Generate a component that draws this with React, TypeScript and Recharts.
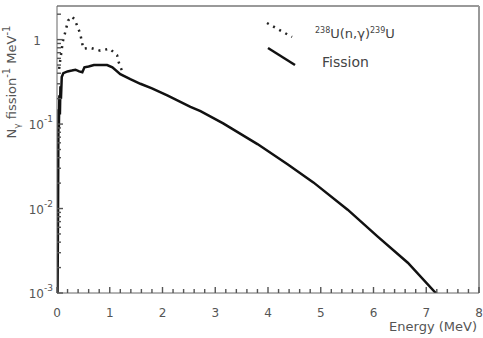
import React from 'react';
import { LineChart, Line, XAxis, YAxis, ReferenceLine } from 'recharts';

// prompt fission gamma spectrum, N per fission per MeV
const fissionEnergy = [
  0.01, 0.02, 0.025, 0.03, 0.035, 0.045, 0.055, 0.065, 0.075, 0.09, 0.12, 0.2,
  0.28, 0.35, 0.42, 0.48, 0.52, 0.6, 0.7, 0.85, 0.95, 1.05, 1.2, 1.39, 1.58,
  1.8, 2.09, 2.53, 2.72, 3.15, 3.8, 4.37, 4.86, 5.51, 6.08, 6.65, 7.18
];
const fissionYield = [
  0.001, 0.01, 0.06, 0.15, 0.09, 0.22, 0.13, 0.28, 0.2, 0.36, 0.4, 0.42,
  0.43, 0.44, 0.42, 0.41, 0.47, 0.48, 0.5, 0.5, 0.5, 0.47, 0.39, 0.34, 0.3,
  0.265, 0.218, 0.16, 0.142, 0.102, 0.058, 0.0334, 0.0204, 0.0097, 0.00465,
  0.00228, 0.001
];

// 238U(n,g)239U capture gammas, low energy part only
const captureEnergy = [
  0.04, 0.06, 0.11, 0.15, 0.21, 0.28, 0.33, 0.38, 0.44, 0.47, 0.5, 0.63, 0.82,
  1.0, 1.14, 1.16, 1.2, 1.25
];
const captureYield = [
  0.45, 0.56, 0.95, 1.18, 1.68, 1.88, 1.75, 1.47, 1.18, 0.95, 0.78, 0.8, 0.74,
  0.78, 0.65, 0.56, 0.48, 0.4
];

const xMajorTicks = [0, 1, 2, 3, 4, 5, 6, 7, 8];
const yDecades = [0.001, 0.01, 0.1, 1];
const yDecadeExponents = ['-3', '-2', '-1', ''];

const fissionData = fissionEnergy.map((e, i) => ({ e, n: fissionYield[i] }));
const captureData = captureEnergy.map((e, i) => ({ e, n: captureYield[i] }));

const xTicks = Array.from({ length: 41 }, (_, i) => Math.round(i * 2) / 10);
const yTicks: number[] = [];
yDecades.forEach(d => {
  for (let m = 1; m <= 9; m++) {
    const v = Math.round(d * m * 100000) / 100000;
    if (v <= 2.5) yTicks.push(v);
  }
});

const FONT = '"DejaVu Sans", sans-serif';
const AXIS_GREY = '#666';
const TICK_GREY = '#555';
const TEXT_GREY = '#555';

// ticks point inward, so they are drawn by hand above / right of the axis line
const XTick = (props: any) => {
  const { x, y, payload } = props;
  const v = payload.value;
  const major = xMajorTicks.some(t => Math.abs(t - v) < 1e-6);
  const len = major ? 6 : 4;
  return (
    <g>
      <rect x={x - 0.7} y={y - len} width={1.4} height={len} fill={TICK_GREY} />
      {major && (
        <text x={x} y={y + 24} textAnchor="middle" fontSize={12} fontFamily={FONT} fill={TEXT_GREY}>
          {Math.round(v)}
        </text>
      )}
    </g>
  );
};

const YTick = (props: any) => {
  const { x, y, payload } = props;
  const v = payload.value;
  const idx = yDecades.findIndex(d => Math.abs(d - v) < d * 1e-6);
  const major = idx >= 0;
  const len = major ? 6 : 4;
  let label = null;
  if (major) {
    const exp = yDecadeExponents[idx];
    label = exp ? (
      <text x={x - 4} y={y + 5} textAnchor="end" fontSize={12} fontFamily={FONT} fill={TEXT_GREY}>
        10
        <tspan dy={-7} fontSize={9}>
          {exp}
        </tspan>
      </text>
    ) : (
      <text x={x - 16} y={y + 5} textAnchor="end" fontSize={12} fontFamily={FONT} fill={TEXT_GREY}>
        1
      </text>
    );
  }
  return (
    <g>
      <rect x={x} y={y - 0.7} width={len} height={1.4} fill={TICK_GREY} />
      {label}
    </g>
  );
};

const YLabel = () => (
  <text
    x={16}
    y={82}
    transform="rotate(-90 16 82)"
    textAnchor="middle"
    fontSize={13}
    fontFamily={FONT}
    fill={TEXT_GREY}
  >
    N
    <tspan dy={4} fontSize={9}>γ</tspan>
    <tspan dy={-4}> fission</tspan>
    <tspan dy={-6} fontSize={10}>-1</tspan>
    <tspan dy={6}> MeV</tspan>
    <tspan dy={-6} fontSize={10}>-1</tspan>
  </text>
);

const XLabel = () => (
  <text x={477} y={331} textAnchor="end" fontSize={13} fontFamily={FONT} fill={TEXT_GREY}>
    Energy (MeV)
  </text>
);

const LegendBox = () => (
  <svg
    width={483}
    height={338}
    style={{ position: 'absolute', left: 0, top: 0, pointerEvents: 'none' }}
  >
    <line x1={267} y1={23} x2={292} y2={37} stroke="#222" strokeWidth={2.5} strokeDasharray="2 5" />
    <text x={315} y={38} fontSize={13} fontFamily={FONT} fill="#444">
      <tspan fontSize={8} dy={-5}>238</tspan>
      <tspan dy={5}>U(n,γ)</tspan>
      <tspan fontSize={8} dy={-5}>239</tspan>
      <tspan dy={5}>U</tspan>
    </text>
    <line x1={268} y1={48} x2={295} y2={65} stroke="#111" strokeWidth={2.5} />
    <text x={322} y={67} fontSize={14} fontFamily={FONT} fill="#444">
      Fission
    </text>
  </svg>
);

export default function App() {
  return (
    <div style={{ position: 'fixed', left: 0, top: 0, width: 483, height: 338, overflow: 'hidden', background: '#fff' }}>
      <LineChart width={483} height={338} margin={{ top: 6, right: 4, bottom: 0, left: 0 }}>
        <XAxis
          type="number"
          dataKey="e"
          domain={[0, 8]}
          ticks={xTicks}
          interval={0}
          tick={<XTick />}
          tickLine={false}
          tickSize={0}
          tickMargin={0}
          height={45}
          stroke={AXIS_GREY}
          allowDataOverflow
          label={<XLabel />}
        />
        <YAxis
          type="number"
          scale="log"
          domain={[0.001, 2.5]}
          ticks={yTicks}
          interval={0}
          tick={<YTick />}
          tickLine={false}
          tickSize={0}
          tickMargin={0}
          width={57}
          stroke={AXIS_GREY}
          allowDataOverflow
          label={<YLabel />}
        />
        <ReferenceLine y={2.5} stroke="#999" strokeWidth={2} />
        <ReferenceLine x={8} stroke="#999" strokeWidth={2} />
        <Line
          data={captureData}
          dataKey="n"
          type="linear"
          stroke="#222"
          strokeWidth={2.5}
          strokeDasharray="2 5"
          dot={false}
          activeDot={false}
          isAnimationActive={false}
        />
        <Line
          data={fissionData}
          dataKey="n"
          type="linear"
          stroke="#111"
          strokeWidth={2.5}
          dot={false}
          activeDot={false}
          isAnimationActive={false}
        />
      </LineChart>
      <LegendBox />
    </div>
  );
}
